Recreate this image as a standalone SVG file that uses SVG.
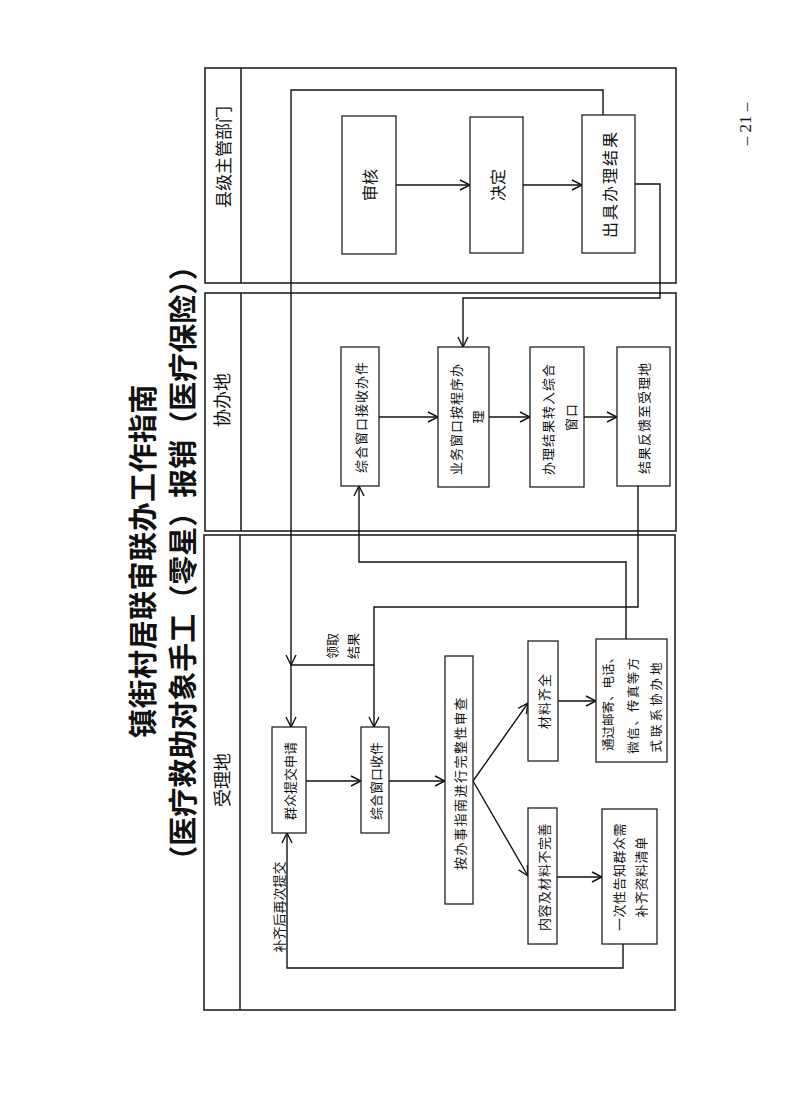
<svg xmlns="http://www.w3.org/2000/svg" width="794" height="1117" viewBox="0 0 794 1117">
<style>
.bg{fill:#fff}
.lane{fill:none;stroke:#222;stroke-width:1.6}
.box{fill:#fff;stroke:#222;stroke-width:1.3}
.conn{fill:none;stroke:#111;stroke-width:1.4;marker-end:url(#arr)}
text{font-family:"Noto Sans CJK SC","Liberation Sans",sans-serif;fill:#111;text-anchor:middle;dominant-baseline:central}
.t{font-size:13px}
.tl{font-size:17px}
.tb{font-size:16px}
.title{font-size:29px;font-weight:bold}
.pn{font-family:"Liberation Serif",serif;font-size:17px}
</style>
<defs>
<marker id="arr" viewBox="0 0 12 12" refX="11" refY="6" markerWidth="12" markerHeight="12" markerUnits="userSpaceOnUse" orient="auto">
<path d="M1,1 L11,6 L1,11" fill="none" stroke="#111" stroke-width="1.4"/>
</marker>
</defs>
<rect class="bg" x="0" y="0" width="794" height="1117"/>

<g id="title">
<text class="title" transform="translate(141,561) rotate(-90)" style="letter-spacing:0.5px">镇街村居联审联办工作指南</text>
<text class="title" transform="translate(181,563) rotate(-90)">（医疗救助对象手工（零星）报销（医疗保险））</text>
</g>
<g id="page-number">
<text class="pn" transform="translate(745,124) rotate(-90)">– 21 –</text>
</g>

<g id="lane-county">
<rect class="lane" x="205" y="68" width="471" height="215"/>
<line class="lane" x1="241" y1="68" x2="241" y2="283"/>
<text class="tl" transform="translate(222,157) rotate(-90)">县级主管部门</text>
</g>
<g id="lane-assist">
<rect class="lane" x="205" y="293" width="471" height="238"/>
<line class="lane" x1="241" y1="293" x2="241" y2="531"/>
<text class="tl" transform="translate(221,400) rotate(-90)" style="font-size:18px">协办地</text>
</g>
<g id="lane-accept">
<rect class="lane" x="204" y="535" width="471" height="475"/>
<line class="lane" x1="240" y1="535" x2="240" y2="1010"/>
<text class="tl" transform="translate(221,780) rotate(-90)" style="font-size:18px">受理地</text>
</g>

<g id="connectors">
<path class="conn" d="M396,185 H470"/>
<path class="conn" d="M523,185 H582"/>
<path class="conn" d="M635,184 H660 V298 H463 V347"/>
<path class="conn" d="M603,115 V90 H291 V665"/>
<path class="conn" d="M379,417 H438"/>
<path class="conn" d="M489,417 H530"/>
<path class="conn" d="M584,417 H617"/>
<path class="conn" d="M638,486 V607 H374 V727"/>
<path class="conn" d="M374,665 H291 V727"/>
<path class="conn" d="M306,781 H361"/>
<path class="conn" d="M389,781 H445"/>
<path class="conn" d="M473,781 L528,703"/>
<path class="conn" d="M473,781 L528,876"/>
<path class="conn" d="M558,701 H596"/>
<path class="conn" d="M626,639 V562 H359 V486"/>
<path class="conn" d="M557,877 H602"/>
<path class="conn" d="M623,944 V968 H287 V833"/>
<text class="t" transform="translate(331,646) rotate(-90)">领取</text>
<text class="t" transform="translate(352,646) rotate(-90)">结果</text>
<text class="t" transform="translate(278,907) rotate(-90)">补齐后再次提交</text>
</g>

<g id="node-shenhe">
<rect class="box" x="342" y="116" width="54" height="138"/>
<text class="tb" transform="translate(369,185) rotate(-90)">审核</text>
</g>
<g id="node-jueding">
<rect class="box" x="470" y="117" width="53" height="136"/>
<text class="tb" transform="translate(497,185) rotate(-90)">决定</text>
</g>
<g id="node-chuju">
<rect class="box" x="582" y="115" width="53" height="138"/>
<text class="tb" transform="translate(609,184) rotate(-90)" style="letter-spacing:2px">出具办理结果</text>
</g>

<g id="node-zonghe-jieshou">
<rect class="box" x="341" y="347" width="38" height="139"/>
<text class="t" transform="translate(360,417) rotate(-90)" style="letter-spacing:1px">综合窗口接收办件</text>
</g>
<g id="node-yewu">
<rect class="box" x="438" y="347" width="51" height="140"/>
<text class="t" transform="translate(455,419) rotate(-90)" style="letter-spacing:1px">业务窗口按程序办</text>
<text class="t" transform="translate(477,417) rotate(-90)">理</text>
</g>
<g id="node-zhuanru">
<rect class="box" x="530" y="347" width="54" height="140"/>
<text class="t" transform="translate(547,419) rotate(-90)" style="letter-spacing:1px">办理结果转入综合</text>
<text class="t" transform="translate(570,417) rotate(-90)" style="letter-spacing:1px">窗口</text>
</g>
<g id="node-fankui">
<rect class="box" x="617" y="347" width="53" height="139"/>
<text class="t" transform="translate(643,418) rotate(-90)" style="letter-spacing:1px">结果反馈至受理地</text>
</g>

<g id="node-tijiao">
<rect class="box" x="272" y="727" width="34" height="106"/>
<text class="t" transform="translate(289,781) rotate(-90)">群众提交申请</text>
</g>
<g id="node-shoujian">
<rect class="box" x="361" y="727" width="28" height="106"/>
<text class="t" transform="translate(375,781) rotate(-90)">综合窗口收件</text>
</g>
<g id="node-shencha">
<rect class="box" x="445" y="656" width="28" height="248"/>
<text class="t" transform="translate(459,783) rotate(-90)" style="letter-spacing:1.5px">按办事指南进行完整性审查</text>
</g>
<g id="node-qiquan">
<rect class="box" x="528" y="641" width="30" height="120"/>
<text class="t" transform="translate(543,701) rotate(-90)" style="letter-spacing:1px">材料齐全</text>
</g>
<g id="node-lianxi">
<rect class="box" x="596" y="639" width="71" height="123"/>
<text class="t" transform="translate(607,701) rotate(-90)" style="font-size:12.5px">通过邮寄、电话、</text>
<text class="t" transform="translate(632,705) rotate(-90)" style="font-size:12.5px;letter-spacing:1.4px">微信、传真等方</text>
<text class="t" transform="translate(655,706) rotate(-90)" style="font-size:12.5px;letter-spacing:3px">式联系协办地</text>
</g>
<g id="node-buwanshan">
<rect class="box" x="528" y="808" width="29" height="136"/>
<text class="t" transform="translate(543,877) rotate(-90)" style="letter-spacing:0.5px">内容及材料不完善</text>
</g>
<g id="node-gaozhi">
<rect class="box" x="602" y="809" width="55" height="135"/>
<text class="t" transform="translate(618,877) rotate(-90)" style="letter-spacing:0.5px">一次性告知群众需</text>
<text class="t" transform="translate(640,877) rotate(-90)" style="letter-spacing:0.5px">补齐资料清单</text>
</g>
</svg>
